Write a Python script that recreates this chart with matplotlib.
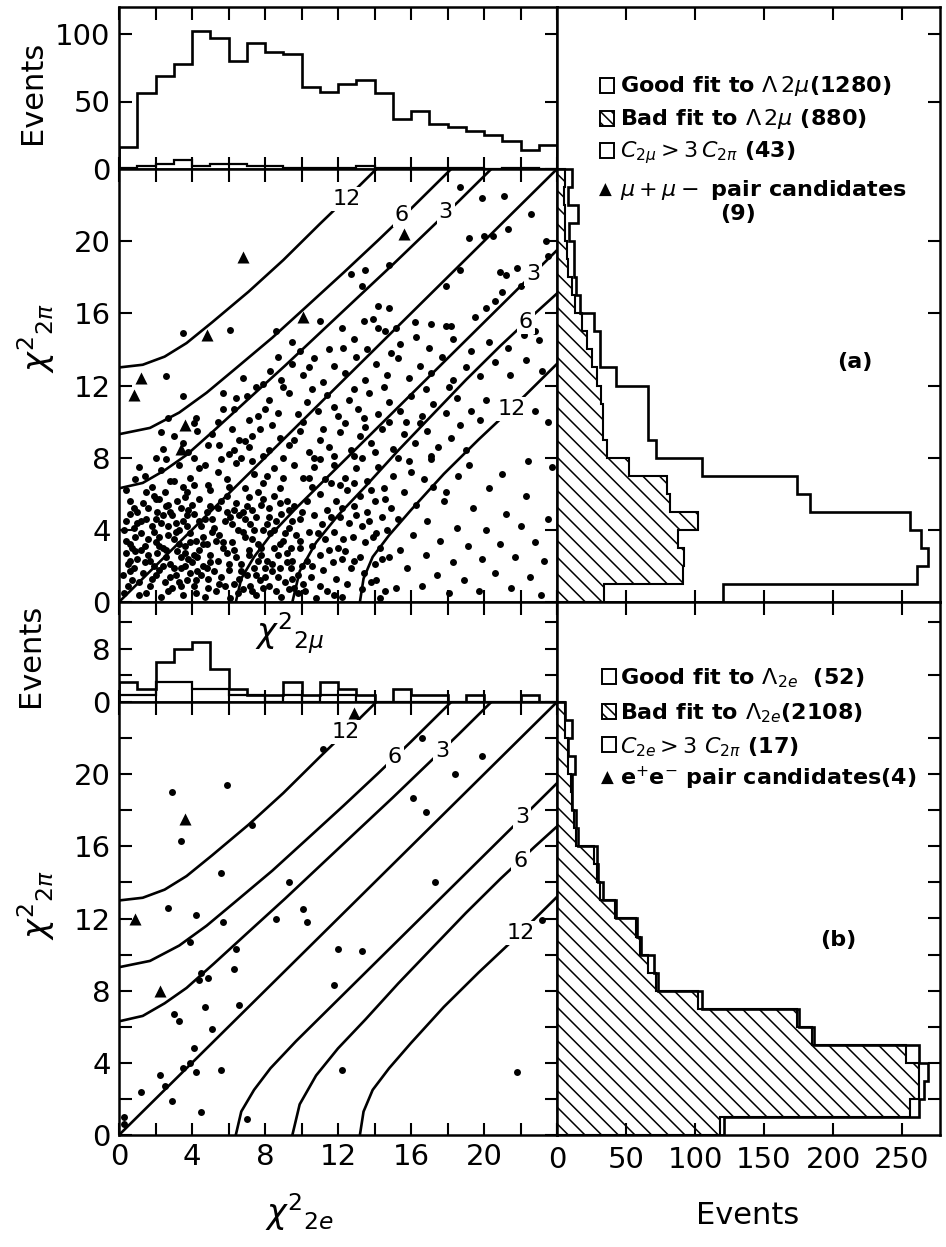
import numpy as np
import matplotlib.pyplot as plt
from matplotlib.patches import Rectangle

plt.rcParams['font.family'] = ['DejaVu Sans']
plt.rcParams['mathtext.fontset'] = 'dejavusans'
plt.rcParams['hatch.linewidth'] = 1.1

W, H = 946, 1247

# unit-wide chi^2 bins from 0 to 24
edges = np.arange(0, 25)

# (a) top histogram (chi2_2mu projection)
a_top_good = [16, 56, 69, 78, 102, 97, 80, 93, 87, 85, 61, 57, 63, 66, 56, 37, 43, 33, 31, 28, 25, 21, 14, 18]
a_top_c = [1, 2, 4, 7, 2, 4, 4, 2, 2, 1, 1, 1, 1, 2, 1, 1, 1, 1, 1, 1, 0, 1, 1, 0]
# (a) right histogram (chi2_2pi projection)
a_right_all = [120, 261, 269, 264, 256, 183, 174, 105, 72, 66, 66, 66, 43, 31, 31, 27, 17, 14, 12, 12, 9, 15, 8, 11]
a_right_bad = [34, 91, 92, 88, 102, 82, 80, 52, 36, 33, 33, 32, 29, 25, 22, 18, 13, 11, 8, 7, 6, 6, 5, 6]

# (b) top histogram (chi2_2e projection)
b_top_good = [3, 2, 6, 8, 9, 5, 2, 1, 1, 3, 1, 3, 2, 1, 0, 2, 1, 1, 0, 1, 0, 0, 1, 0]
b_top_c = [1, 1, 3, 3, 2, 2, 1, 1, 0, 1, 0, 1, 1, 0, 0, 0, 0, 0, 0, 0, 0, 0, 0, 0]
# (b) right histogram (chi2_2pi projection)
b_right_all = [121, 262, 266, 269, 262, 186, 175, 105, 73, 70, 61, 58, 43, 33, 30, 29, 15, 14, 11, 11, 13, 8, 11, 6]
b_right_bad = [118, 256, 262, 262, 253, 185, 174, 102, 72, 66, 60, 57, 42, 31, 29, 27, 14, 12, 11, 10, 8, 8, 6, 6]

# contour lines (ratio 12, 6, 3)
diag_x = [0, 24]
diag_y = [0, 24]
up12_x = [0, 1.3, 2.5, 3.7, 5.1, 7.1, 9.0, 11.0, 13.0, 14.1]
up12_y = [13.0, 13.15, 13.6, 14.35, 15.5, 17.2, 18.95, 20.95, 22.9, 24.0]
up6_x = [0, 1.7, 3.3, 4.8, 6.4, 8.4, 10.3, 12.3, 14.2, 16.0, 18.2]
up6_y = [9.3, 9.65, 10.5, 11.6, 12.95, 14.65, 16.4, 18.25, 20.05, 21.8, 24.0]
up3_x = [0, 1.3, 2.5, 3.7, 5.2, 7.2, 9.1, 11.1, 13.1, 15.0, 16.8, 18.6, 20.4]
up3_y = [6.3, 6.6, 7.3, 8.15, 9.5, 11.35, 13.1, 15.0, 16.9, 18.7, 20.45, 22.2, 24.0]
lo3_x = [6.4, 6.7, 7.4, 8.3, 9.7, 11.7, 13.6, 15.6, 17.6, 19.5, 21.3, 23.1, 24.0]
lo3_y = [0, 1.3, 2.5, 3.7, 5.2, 7.2, 9.1, 11.1, 13.1, 15.0, 16.8, 18.6, 19.5]
lo6_x = [9.5, 9.9, 10.8, 12.0, 13.5, 15.3, 17.1, 19.0, 20.9, 22.8, 24.0]
lo6_y = [0, 1.7, 3.3, 4.8, 6.4, 8.4, 10.3, 12.3, 14.2, 16.0, 17.1]
lo12_x = [13.2, 13.4, 13.9, 14.8, 16.0, 17.8, 19.7, 21.8, 23.8, 24.0]
lo12_y = [0, 1.3, 2.5, 3.7, 5.1, 7.1, 9.0, 11.0, 13.0, 13.2]

# (a) scatter points
a_dots = [
    (18.7, 23.0), (19.9, 22.4), (21.1, 22.5), (22.6, 21.5), (21.3, 20.7), (20.5, 20.3), (20.0, 20.3),
    (19.2, 20.2), (14.8, 18.7), (13.5, 18.4), (12.7, 18.2), (13.3, 17.5), (17.9, 17.5), (18.7, 18.4),
    (20.9, 18.3), (21.8, 18.5), (21.2, 18.1), (14.2, 16.4), (14.8, 16.3), (13.4, 15.6), (13.9, 15.7),
    (16.2, 15.5), (17.1, 15.4), (17.9, 15.3), (18.2, 15.3), (14.6, 15.0), (15.2, 15.2), (20.1, 16.3),
    (20.6, 16.7), (21.0, 17.2), (6.1, 15.1), (8.6, 15.0), (9.5, 14.4), (3.5, 14.9), (2.6, 12.5),
    (3.5, 11.4), (5.7, 11.6), (7.5, 11.9), (4.2, 10.2), (5.7, 10.7), (6.3, 10.7), (2.3, 9.4),
    (2.7, 10.2), (2.4, 8.5), (4.1, 8.0), (1.4, 7.0), (0.4, 6.2), (0.8, 5.2), (0.4, 4.5), (0.6, 3.2),
    (0.6, 2.3), (5.4, 10.0), (7.1, 10.1), (5.5, 8.7), (6.9, 8.9), (6.3, 8.4), (4.7, 7.6), (3.0, 6.7),
    (3.7, 6.1), (4.1, 6.5), (2.0, 5.7), (2.7, 5.4), (3.6, 5.8), (23.4, 20.0), (22.0, 17.5),
    (23.5, 19.2), (19.5, 15.8), (22.8, 15.0), (11.0, 15.6), (12.2, 15.2),
    # dense core
    (0.3, 0.5), (0.7, 1.2), (0.5, 2.1), (0.9, 2.8), (0.4, 3.4), (0.8, 4.1), (0.6, 4.9), (1.1, 0.4),
    (1.3, 1.6), (1.0, 2.4), (1.4, 3.1), (1.2, 3.8), (1.5, 4.6), (1.3, 5.5), (1.7, 0.9), (1.9, 2.0),
    (1.6, 2.6), (2.0, 3.3), (1.8, 4.2), (2.1, 5.0), (1.9, 5.9), (2.3, 0.3), (2.5, 1.1), (2.2, 1.8),
    (2.6, 2.5), (2.4, 3.0), (2.7, 3.7), (2.3, 4.4), (2.6, 5.3), (2.9, 0.8), (3.1, 1.5), (2.8, 2.1),
    (3.2, 2.8), (3.0, 3.5), (3.3, 4.0), (2.9, 4.8), (3.2, 5.6), (3.5, 0.4), (3.7, 1.2), (3.4, 1.9),
    (3.8, 2.4), (3.6, 3.1), (3.9, 3.8), (3.5, 4.5), (3.8, 5.1), (4.1, 0.9), (4.3, 1.7), (4.0, 2.2),
    (4.4, 2.9), (4.2, 3.4), (4.5, 4.2), (4.1, 4.9), (4.4, 5.7), (4.7, 0.3), (4.9, 1.3), (4.6, 2.0),
    (5.0, 2.6), (4.8, 3.2), (5.1, 3.9), (4.7, 4.6), (5.0, 5.3), (1.1, 1.1), (1.6, 3.5), (2.1, 2.7),
    (2.8, 1.4), (3.3, 3.2), (3.9, 1.6), (4.3, 2.5), (0.6, 1.7), (1.8, 1.3), (2.4, 2.0), (3.6, 2.7),
    (4.6, 3.6), (2.0, 4.6), (3.1, 4.4), (1.4, 2.2), (2.7, 4.2), (4.2, 1.2), (0.9, 3.6), (3.4, 0.9),
    (2.2, 3.6), (4.8, 1.9), (3.7, 4.8), (1.2, 4.5),
    (0.5, 0.9), (0.8, 1.9), (1.2, 2.9), (0.7, 3.0), (1.0, 4.4), (1.6, 5.2), (1.5, 0.5), (2.0, 1.5),
    (1.7, 2.3), (2.2, 3.1), (1.9, 3.9), (2.4, 4.8), (2.2, 5.7), (2.7, 0.6), (3.0, 1.9), (2.6, 2.9),
    (3.1, 3.9), (2.8, 5.0), (3.4, 5.2), (3.3, 1.1), (3.6, 2.0), (3.4, 2.5), (3.9, 3.3), (3.7, 4.2),
    (4.0, 5.4), (4.2, 0.5), (4.5, 1.5), (4.1, 2.6), (4.6, 3.2), (4.4, 4.5), (4.8, 5.0), (4.9, 0.8),
    (5.2, 1.7), (5.0, 2.2), (5.3, 3.4), (5.1, 4.6), (5.6, 5.6), (5.8, 0.9), (6.0, 2.1), (5.7, 3.3),
    (6.2, 4.3), (5.9, 5.0), (6.5, 0.5), (6.7, 1.7), (6.3, 2.9), (6.8, 3.9), (6.6, 4.8), (7.0, 5.3),
    (7.3, 0.6), (7.5, 1.5), (7.1, 2.6), (7.4, 4.0), (7.3, 5.1), (7.9, 0.8), (8.0, 1.9), (7.8, 3.0),
    (8.2, 4.7), (7.9, 5.7), (8.6, 0.6), (8.7, 1.4), (8.4, 2.1), (8.8, 3.2), (8.5, 4.0), (8.8, 5.5),
    (9.3, 0.7), (9.5, 1.3), (9.2, 2.2), (9.4, 3.0), (9.1, 3.8), (9.5, 4.5), (9.3, 5.1), (9.8, 0.5),
    (10.0, 2.0), (9.9, 3.4), (10.0, 5.0), (1.0, 5.0), (0.6, 5.6), (0.3, 4.0), (0.4, 2.7), (0.2, 1.5),
    (2.5, 6.1), (3.5, 6.4), (1.5, 6.1), (5.0, 6.2), (6.0, 6.4), (7.6, 6.1), (8.8, 6.3),
    (5.3, 0.6), (5.6, 1.4), (5.4, 2.3), (5.7, 3.0), (5.5, 3.7), (5.8, 4.5), (5.4, 5.2), (5.9, 5.9),
    (6.1, 0.2), (6.3, 1.0), (6.0, 1.8), (6.4, 2.5), (6.2, 3.3), (6.5, 4.0), (6.1, 4.7), (6.4, 5.5),
    (6.8, 0.7), (7.0, 1.5), (6.7, 2.1), (7.1, 2.9), (6.9, 3.6), (7.2, 4.3), (6.8, 5.0), (7.1, 5.8),
    (7.5, 0.4), (7.7, 1.2), (7.4, 1.9), (7.8, 2.6), (7.6, 3.2), (7.9, 4.0), (7.5, 4.7), (7.8, 5.4),
    (8.2, 0.9), (8.4, 1.7), (8.1, 2.3), (8.5, 3.0), (8.3, 3.8), (8.6, 4.5), (8.2, 5.2), (8.5, 5.9),
    (8.9, 0.3), (9.1, 1.1), (8.8, 1.9), (9.2, 2.7), (9.0, 3.4), (9.3, 4.1), (8.9, 4.9), (9.2, 5.6),
    (9.6, 0.8), (9.8, 1.5), (9.5, 2.3), (9.9, 3.0), (9.7, 3.7), (9.9, 4.6), (9.6, 5.3), (5.2, 4.1),
    (6.6, 1.3), (7.3, 3.5), (8.0, 1.4), (8.7, 2.6), (5.9, 2.7), (6.9, 4.6), (7.6, 2.3), (9.4, 1.9),
    (6.3, 5.1), (8.1, 4.3), (5.5, 1.0), (7.2, 0.9),
    # x 10-15, low chi2_2pi
    (10.2, 0.6), (10.5, 1.4), (10.3, 2.3), (10.6, 3.1), (10.4, 3.9), (10.7, 4.8), (10.3, 5.6),
    (10.6, 6.4), (11.0, 0.9), (11.2, 1.8), (11.0, 2.6), (11.3, 3.5), (11.1, 4.3), (11.4, 5.1),
    (11.0, 6.0), (11.8, 0.4), (11.9, 1.3), (11.7, 2.2), (12.0, 3.0), (11.8, 3.9), (12.1, 4.7),
    (11.9, 5.6), (12.5, 1.0), (12.7, 1.9), (12.4, 2.8), (12.8, 3.6), (12.6, 4.4), (12.9, 5.3),
    (12.5, 6.2), (13.3, 0.7), (13.4, 1.6), (13.2, 2.5), (13.5, 3.3), (13.3, 4.2), (13.6, 5.0),
    (13.2, 5.9), (14.1, 1.2), (14.0, 2.1), (14.3, 3.0), (14.1, 3.8), (14.4, 4.7), (14.0, 5.6),
    (14.6, 0.6), (14.8, 2.5), (14.7, 4.0), (14.9, 5.2), (14.5, 6.3),
    (10.1, 1.0), (10.6, 2.0), (10.9, 3.8), (11.5, 2.9), (11.6, 4.7), (12.2, 2.4), (12.3, 3.5),
    (12.2, 5.2), (12.9, 2.3), (13.0, 4.8), (13.8, 1.1), (13.9, 3.6), (13.7, 4.5), (14.4, 2.4),
    (14.6, 5.7), (11.6, 6.6), (12.9, 6.6), (10.4, 6.9), (14.3, 0.2), (12.2, 0.3), (11.4, 0.6),
    (10.8, 0.2),
    # x 15-24, low chi2_2pi
    (15.2, 0.8), (15.4, 2.9), (15.3, 4.6), (15.6, 6.1), (15.8, 1.9), (16.1, 3.7), (16.3, 5.4),
    (16.0, 7.2), (16.6, 0.9), (16.8, 2.6), (16.9, 4.5), (17.2, 6.4), (17.4, 1.5), (17.6, 3.4),
    (17.8, 5.6), (18.1, 0.5), (18.3, 2.2), (18.5, 4.1), (18.6, 7.0), (18.9, 1.2), (19.1, 3.1),
    (19.4, 5.2), (19.7, 0.6), (19.9, 2.4), (20.1, 4.0), (20.3, 6.3), (20.6, 1.6), (20.9, 3.2),
    (21.2, 4.9), (21.5, 0.8), (21.7, 2.5), (22.0, 4.2), (22.3, 5.9), (22.5, 1.4), (22.8, 3.3),
    (23.1, 0.4), (23.3, 2.3), (23.5, 4.6), (23.7, 7.5), (21.0, 7.1), (19.2, 7.6), (22.4, 7.8),
    (17.1, 7.9), (16.7, 6.8), (17.9, 6.1), (15.0, 7.0),
    # band along the diagonal
    (0.9, 6.8), (1.8, 6.4), (2.3, 7.3), (2.8, 6.7), (3.3, 7.6), (3.9, 6.9), (4.4, 7.4), (4.9, 6.5),
    (5.4, 7.2), (5.9, 6.8), (6.4, 7.7), (6.9, 6.3), (7.4, 7.1), (7.9, 6.6), (8.5, 7.4), (9.0, 6.9),
    (9.6, 7.6), (10.1, 6.9), (10.7, 7.5), (11.3, 6.8), (11.8, 7.6), (12.4, 6.9), (13.0, 7.4),
    (13.6, 6.7), (14.2, 7.5), (12.1, 6.5), (13.8, 6.2), (7.3, 7.8), (8.1, 7.0), (11.0, 7.9),
    (13.3, 8.0), (15.9, 7.8),
    (3.0, 9.2), (3.8, 8.3), (4.3, 9.5), (4.9, 8.7), (6.0, 8.2), (6.6, 9.0), (7.1, 8.6), (7.7, 9.6),
    (8.2, 8.4), (8.8, 9.1), (9.3, 8.7), (9.9, 9.5), (10.4, 8.3), (11.0, 9.0), (11.5, 8.6),
    (12.1, 9.4), (12.7, 8.4), (13.2, 9.2), (13.8, 8.8), (14.4, 9.6), (15.0, 8.5), (15.6, 9.3),
    (16.2, 8.8), (16.9, 9.5), (17.5, 8.6), (18.2, 9.1), (19.0, 8.4),
    (1.1, 7.5), (2.0, 8.0), (2.6, 7.9), (3.5, 8.8), (4.1, 9.9), (5.1, 9.3), (5.6, 7.9), (6.2, 9.6),
    (6.7, 8.0), (7.3, 9.2), (7.9, 8.1), (8.4, 9.8), (9.0, 8.0), (9.6, 9.0), (10.1, 10.0), (10.7, 8.0),
    (11.2, 9.6), (11.8, 8.1), (12.4, 9.9), (12.9, 8.1), (13.5, 9.7), (14.0, 8.3), (14.8, 10.0),
    (15.3, 8.0), (16.5, 9.9), (17.1, 8.1), (18.7, 9.8),
    (7.0, 11.4), (7.6, 10.3), (8.2, 11.2), (8.7, 10.5), (9.3, 11.6), (9.8, 10.4), (10.3, 11.1),
    (10.9, 10.6), (11.4, 11.5), (12.0, 10.3), (12.6, 11.2), (13.1, 10.7), (13.7, 11.6), (14.2, 10.4),
    (14.8, 11.1), (15.4, 10.6), (16.0, 11.4), (16.6, 10.3), (17.2, 11.0), (17.9, 10.5), (18.5, 11.3),
    (19.3, 10.6), (20.1, 11.2), (21.0, 10.3), (21.8, 11.0), (22.8, 10.6), (23.5, 10.0),
    (8.0, 10.7), (9.0, 11.9), (10.6, 11.8), (11.8, 10.8), (12.9, 11.8), (13.4, 10.2), (14.5, 11.9),
    (15.7, 10.0), (16.8, 11.8), (18.1, 11.9), (19.8, 10.1), (6.4, 11.3),
    (6.8, 12.4), (8.3, 12.8), (8.9, 12.3), (9.5, 13.2), (10.1, 12.6), (10.7, 13.5), (11.2, 12.2),
    (11.8, 13.1), (12.4, 12.7), (13.0, 13.6), (13.5, 12.3), (14.1, 13.2), (14.7, 12.6), (15.3, 13.5),
    (15.9, 12.4), (16.5, 13.1), (17.1, 12.7), (17.7, 13.6), (18.3, 12.3), (19.0, 13.0), (19.8, 12.5),
    (20.6, 13.3), (21.4, 12.6), (22.3, 13.4), (23.2, 12.8), (7.9, 12.1), (8.7, 13.6), (9.9, 13.9),
    (11.5, 14.0), (10.4, 13.0),
    (12.3, 14.1), (12.9, 14.6), (13.6, 14.0), (14.2, 15.2), (15.4, 14.3), (16.3, 14.7), (17.0, 14.1),
    (18.3, 14.6), (19.3, 13.9), (20.3, 14.4), (21.3, 14.1), (22.2, 14.8), (23.0, 14.5), (14.9, 13.8),
]
a_tri = [(6.8, 19.1), (15.6, 20.4), (10.1, 15.8), (4.8, 14.8), (1.2, 12.4), (0.8, 11.5), (3.6, 9.8), (3.4, 8.5)]

# (b) scatter points
b_dots = [
    (11.2, 21.4), (16.6, 22.0), (19.9, 21.0), (18.4, 20.0), (16.1, 18.7), (16.8, 17.9), (2.9, 19.0),
    (5.9, 19.4), (3.4, 16.3), (7.3, 17.2), (5.6, 14.5), (9.3, 14.0), (17.3, 14.0), (2.7, 12.6),
    (4.2, 12.2), (5.7, 11.8), (10.1, 12.5), (8.6, 12.0), (10.3, 11.8), (3.9, 10.7), (6.4, 10.3),
    (12.0, 10.3), (13.3, 10.2), (6.3, 9.2), (4.5, 9.0), (4.4, 8.6), (4.9, 8.7), (11.8, 8.3),
    (3.0, 6.7), (3.3, 6.3), (4.7, 7.1), (6.6, 7.2), (5.1, 5.9), (4.1, 4.8), (3.9, 4.0), (3.5, 3.7),
    (4.2, 3.5), (5.6, 3.6), (2.25, 3.3), (2.5, 2.7), (12.2, 3.6), (1.2, 2.4), (0.3, 1.0), (0.3, 0.6),
    (2.9, 1.9), (4.5, 1.3), (7.0, 0.9), (23.2, 11.9), (21.8, 3.5),
]
b_tri = [(3.6, 17.5), (0.9, 12.0), (2.25, 8.0), (12.9, 23.4)]

fig = plt.figure(figsize=(W / 100, H / 100), dpi=100)


def add_ax(x0, y0, x1, y1):
    return fig.add_axes([x0 / W, 1 - y1 / H, (x1 - x0) / W, (y1 - y0) / H])


ax_ha = add_ax(119, 7, 557, 169)
ax_sa = add_ax(119, 169, 557, 602)
ax_ra = add_ax(557, 7, 940, 602)
ax_hb = add_ax(119, 602, 557, 702)
ax_sb = add_ax(119, 702, 557, 1135)
ax_rb = add_ax(557, 602, 940, 1135)

for ax in [ax_ha, ax_sa, ax_ra, ax_hb, ax_sb, ax_rb]:
    for sp in ax.spines.values():
        sp.set_linewidth(1.8)
    ax.tick_params(direction='in', length=9, width=1.5, labelsize=21, pad=6,
                   top=True, bottom=True, left=True, right=True)

two = np.arange(0, 25, 2)

# ---- top histograms
for ax, good, cc, ymax, yt, ylab in [
        (ax_ha, a_top_good, a_top_c, 120, [0, 50, 100], ['0', '50', '100']),
        (ax_hb, b_top_good, b_top_c, 15, [0, 4, 8, 12], ['0', '', '8', ''])]:
    ax.stairs(good, edges, color='k', lw=1.9)
    ax.stairs(cc, edges, color='k', lw=1.6)
    ax.set_xlim(0, 24)
    ax.set_ylim(0, ymax)
    ax.set_xticks(two)
    ax.set_xticklabels([])
    ax.set_yticks(yt)
    ax.set_yticklabels(ylab)

# ---- scatter panels
for ax, dots, tri, ystep in [(ax_sa, a_dots, a_tri, 4), (ax_sb, b_dots, b_tri, 2)]:
    dx, dy = np.array(dots).T
    tx, ty = np.array(tri).T
    ax.plot(diag_x, diag_y, color='k', lw=1.9)
    for cx, cy in [(up12_x, up12_y), (up6_x, up6_y), (up3_x, up3_y),
                   (lo3_x, lo3_y), (lo6_x, lo6_y), (lo12_x, lo12_y)]:
        ax.plot(cx, cy, color='k', lw=1.9)
    ax.scatter(dx, dy, s=25, c='k', linewidths=0, zorder=3)
    ax.scatter(tx, ty, s=75, c='k', marker='^', linewidths=0, zorder=3)
    ax.set_xlim(0, 24)
    ax.set_ylim(0, 24)
    ax.set_xticks(two)
    ax.set_yticks(np.arange(0, 23, ystep))
    ax.set_yticklabels([str(v) if v % 4 == 0 else '' for v in np.arange(0, 23, ystep)])

ax_sa.set_xticklabels([])
ax_sb.set_xticklabels([str(v) if v % 4 == 0 and v < 24 else '' for v in two])

lab_kw = dict(ha='center', va='center', fontsize=16, zorder=4,
              bbox=dict(fc='white', ec='none', pad=1.5))
for ax, labs in [
        (ax_sa, [('12', 12.5, 22.35), ('6', 15.5, 21.45), ('3', 17.9, 21.6),
                 ('3', 22.7, 18.2), ('6', 22.3, 15.5), ('12', 21.5, 10.7)]),
        (ax_sb, [('12', 12.4, 22.35), ('6', 15.1, 20.95), ('3', 17.7, 21.3),
                 ('3', 22.1, 17.6), ('6', 22.0, 15.2), ('12', 22.0, 11.2)])]:
    for t, x, y in labs:
        ax.text(x, y, t, **lab_kw)

# ---- right histograms
hatch = '\\\\'
for ax, allv, bad, ytop in [(ax_ra, a_right_all, a_right_bad, 32.98),
                            (ax_rb, b_right_all, b_right_bad, 29.54)]:
    ax.stairs(bad, edges, orientation='horizontal', fill=True, facecolor='none',
              edgecolor='k', hatch=hatch, lw=1.5)
    ax.stairs(allv, edges, orientation='horizontal', color='k', lw=1.9)
    ax.set_xlim(0, 277.5)
    ax.set_ylim(0, ytop)
    ax.set_xticks([0, 50, 100, 150, 200, 250])
    ax.tick_params(left=False, labelleft=False)

ax_ra.set_xticklabels([])
ax_ra.set_yticks([4, 8, 12, 16, 20, 27.74, 31.49])
ax_ra.set_yticklabels([])
ax_rb.set_yticks([2, 4, 6, 8, 10, 12, 14, 16, 18, 20, 22, 25.48, 28.43])
ax_rb.set_yticklabels([])
ax_rb.tick_params(axis='x', pad=8)


def ft(x, y, s, **kw):
    fig.text(x / W, 1 - y / H, s, **kw)


def fbox(x, y, w, h, **kw):
    fig.add_artist(Rectangle((x / W, 1 - (y + h) / H), w / W, h / H,
                             transform=fig.transFigure, fill=False, lw=1.4,
                             edgecolor='k', **kw))


# axis labels
ft(33, 92, 'Events', rotation=90, ha='center', va='center', fontsize=22)
ft(36, 338, r'$\chi^{2}{}_{2\pi}$', rotation=90, ha='center', va='center', fontsize=24)
ft(290, 633, r'$\chi^{2}{}_{2\mu}$', ha='center', va='center', fontsize=24)
ft(30, 655, 'Events', rotation=90, ha='center', va='center', fontsize=22)
ft(36, 905, r'$\chi^{2}{}_{2\pi}$', rotation=90, ha='center', va='center', fontsize=24)
ft(300, 1212, r'$\chi^{2}{}_{2e}$', ha='center', va='center', fontsize=24)
ft(748, 1216, 'Events', ha='center', va='center', fontsize=22)

lg = dict(va='center', fontsize=16, fontweight='bold')

# legend (a)
lx, tx = 600, 620
fbox(lx, 78, 14, 15)
ft(tx, 86, r'Good fit to $\Lambda\,2\mu$(1280)', **lg)
fbox(lx, 111, 14, 15, hatch='\\\\\\')
ft(tx, 119, r'Bad fit to $\Lambda\,2\mu$ (880)', **lg)
fbox(lx, 143, 14, 15)
ft(tx, 153, r'$C_{2\mu} > 3\,C_{2\pi}$ (43)', **lg)
ft(lx - 1, 190, '\u25b2', va='center', fontsize=12)
ft(tx, 190, r'$\mu+\mu-$ pair candidates', **lg)
ft(738, 214, '(9)', ha='center', **lg)
ft(855, 362, '(a)', ha='center', **lg)

# legend (b)
lx, tx = 602, 620
fbox(lx, 669, 14, 15)
ft(tx, 678, r'Good fit to $\Lambda_{2e}$  (52)', **lg)
fbox(lx, 704, 14, 15, hatch='\\\\\\')
ft(tx, 713, r'Bad fit to $\Lambda_{2e}$(2108)', **lg)
fbox(lx, 737, 14, 15)
ft(tx, 747, r'$C_{2e} > 3\ C_{2\pi}$ (17)', **lg)
ft(lx - 1, 778, '\u25b2', va='center', fontsize=12)
ft(tx, 778, r'e$^{+}$e$^{-}$ pair candidates(4)', **lg)
ft(838, 940, '(b)', ha='center', **lg)

fig.savefig('out.png', dpi=100)
